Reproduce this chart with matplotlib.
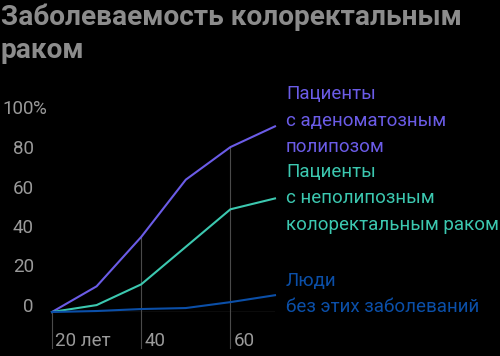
import matplotlib
matplotlib.use("Agg")
import matplotlib.pyplot as plt
from matplotlib.transforms import blended_transform_factory, offset_copy

plt.rcParams['font.family'] = ['Roboto', 'DejaVu Sans']

ages = [20, 30, 40, 50, 60, 70]
adenomatous = [0, 13, 38, 67, 83.5, 94]
nonpolyposis = [0, 3.5, 14, 33, 52, 57.5]
general = [0, 0.5, 1.5, 2, 5, 8.5]

series_labels = ["Пациенты\nс аденоматозным\nполипозом",
                 "Пациенты\nс неполипозным\nколоректальным раком",
                 "Люди\nбез этих заболеваний"]
colors = ["#6b5ce7", "#3cc8b0", "#0b4fa8"]
yticks = [0, 20, 40, 60, 80, 100]
xticks = [20, 40, 60]
xtick_labels = ["20 лет", "40", "60"]
title = "Заболеваемость колоректальным\nраком"

W, H = 500, 356
FS = 13.5
fig = plt.figure(figsize=(W / 100, H / 100), dpi=100, facecolor="black")
x0, x1 = 52, 275
y0 = 312
ppu = 1.975
ax = fig.add_axes([x0 / W, (H - y0) / H, (x1 - x0) / W, 100 * ppu / H])
ax.set_facecolor("black")
ax.set_xlim(20, 70)
ax.set_ylim(0, 100)
ax.axis("off")

# baseline
ax.plot([20, 70], [0, 0], color="#3a3a3a", lw=1, solid_capstyle="butt")

# vertical reference lines
bottom_val = -(348 - y0) / ppu
vals_at = {20: 0, 40: adenomatous[ages.index(40)], 60: adenomatous[ages.index(60)]}
for xt in xticks:
    ax.plot([xt, xt], [bottom_val, vals_at[xt]], color="#4a4a4a", lw=0.8, clip_on=False)

for data, c in zip([adenomatous, nonpolyposis, general], colors):
    ax.plot(ages, data, color=c, lw=1.5, clip_on=False, solid_joinstyle="miter")

# x tick labels
xtr = offset_copy(ax.transData, fig=fig, x=3, y=0, units="dots")
for xt, lab in zip(xticks, xtick_labels):
    ax.text(xt, -(341 - y0) / ppu, lab, transform=xtr,
            ha="left", va="center", color="#9a9a9a", fontsize=FS)

# y tick labels
tr = blended_transform_factory(fig.transFigure, ax.transData)
for yt in yticks:
    ax.text(34 / W, yt, str(yt), transform=tr, ha="right", va="baseline",
            color="#9a9a9a", fontsize=FS)
ax.text(33 / W, 100, "%", transform=tr, ha="left", va="baseline",
        color="#9a9a9a", fontsize=FS)

# right labels
label_tops = [94, 172, 281]
for lab, c, yc in zip(series_labels, colors, label_tops):
    for i, line in enumerate(lab.split("\n")):
        fig.text(286 / W, 1 - (yc + i * 26.5) / H, line, ha="left", va="center",
                 color=c, fontsize=FS)

# title
for i, line in enumerate(title.split("\n")):
    fig.text(1 / W, 1 - (17 + i * 34) / H, line, ha="left", va="center",
             color="#8c8c8c", fontsize=20.2, fontweight="bold")

fig.savefig("out.png", dpi=100, facecolor="black")
